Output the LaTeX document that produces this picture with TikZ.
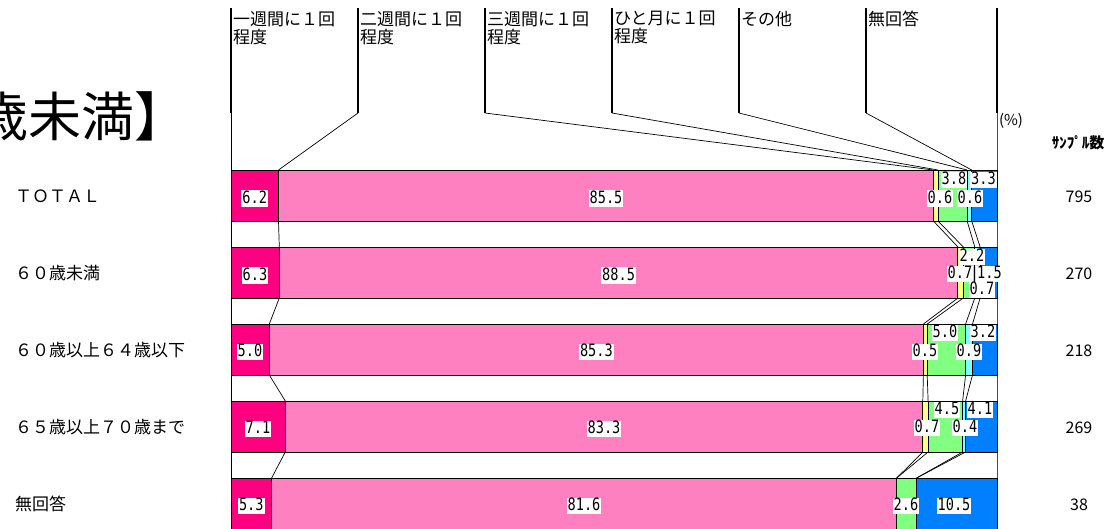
\documentclass[tikz,border=0pt]{standalone}
\usepackage{fontspec}
\setmainfont{Noto Sans CJK JP}
\newfontfamily\numfont[FakeStretch=0.8]{DejaVu Sans Mono}
\definecolor{c1}{RGB}{255,0,128}
\definecolor{c2}{RGB}{255,128,192}
\definecolor{c3}{RGB}{255,255,128}
\definecolor{c4}{RGB}{128,255,128}
\definecolor{c5}{RGB}{128,255,255}
\definecolor{c6}{RGB}{0,128,255}
\newcommand\drawbar[7]{%
  \coordinate (#1t0) at (231,#2);
  \coordinate (#1t1) at (#3,#2);
  \coordinate (#1t2) at (#4,#2);
  \coordinate (#1t3) at (#5,#2);
  \coordinate (#1t4) at (#6,#2);
  \coordinate (#1t5) at (#7,#2);
  \coordinate (#1t6) at (997,#2);
  \coordinate (#1b0) at (231,#2+51);
  \coordinate (#1b1) at (#3,#2+51);
  \coordinate (#1b2) at (#4,#2+51);
  \coordinate (#1b3) at (#5,#2+51);
  \coordinate (#1b4) at (#6,#2+51);
  \coordinate (#1b5) at (#7,#2+51);
  \coordinate (#1b6) at (997,#2+51);
  \filldraw[seg,fill=c1] (#1t0) rectangle (#1b1);
  \filldraw[seg,fill=c2] (#1t1) rectangle (#1b2);
  \filldraw[seg,fill=c3] (#1t2) rectangle (#1b3);
  \filldraw[seg,fill=c4] (#1t3) rectangle (#1b4);
  \filldraw[seg,fill=c5] (#1t4) rectangle (#1b5);
  \filldraw[seg,fill=c6] (#1t5) rectangle (#1b6);
}
\begin{document}
\begin{tikzpicture}[x=1pt,y=-1pt,
  seg/.style={draw=black,line width=0.9pt},
  hline/.style={draw=black,line width=1.6pt},
  dline/.style={draw=black,line width=0.7pt},
  sline/.style={draw=black!70,line width=0.6pt},
  hdr/.style={anchor=north west,inner sep=0pt,align=left,font=\fontsize{17}{18}\selectfont},
  rowlbl/.style={anchor=west,inner sep=0pt,font=\fontsize{17}{18}\selectfont},
  val/.style={fill=white,inner xsep=1pt,inner ysep=0.5pt,text height=12.5pt,text depth=3pt,font=\numfont\fontsize{17}{17}\selectfont},
  num/.style={inner sep=0pt,font=\fontsize{16}{18}\selectfont}]
\useasboundingbox (0,0) rectangle (1111,528);
\fill[white] (0,0) rectangle (1111,528);

% title (cut at left edge)
\node[anchor=east,inner sep=0pt,font=\fontsize{53}{53}\selectfont] (title) at (188,116) {歳未満】};

% header line tops and bends
\coordinate (a1) at (231,8);
\coordinate (a2) at (358,8);  \coordinate (k2) at (358,113);
\coordinate (a3) at (485,8);  \coordinate (k3) at (485,113);
\coordinate (a4) at (612,8);  \coordinate (k4) at (612,113);
\coordinate (a5) at (739,8);  \coordinate (k5) at (739,113);
\coordinate (a6) at (866,8);  \coordinate (k6) at (866,113);
\coordinate (a7) at (997,8);  \coordinate (k7) at (997,113);
\coordinate (lend) at (231,530);
\coordinate (rend) at (997,530);

\node[hdr] (h1) at (233,11) {一週間に１回\\程度};
\node[hdr] (h2) at (360,11) {二週間に１回\\程度};
\node[hdr] (h3) at (487,11) {三週間に１回\\程度};
\node[hdr] (h4) at (614,11) {ひと月に１回\\程度};
\node[hdr] (h5) at (741,11) {その他};
\node[hdr] (h6) at (868,11) {無回答};

% axis lines
\draw[hline] (a1) -- (231,113);
\draw[draw=black,line width=0.8pt] (231,113) -- (lend);
\draw[hline] (a7) -- (k7);
\draw[sline] (k7) -- (rend);

% bars
\drawbar{r1}{170}{278.5}{933.4}{938.0}{967.1}{971.7}
\drawbar{r2}{247}{279.3}{957.9}{963.3}{974.8}{980.1}
\drawbar{r3}{324}{269.3}{923.4}{927.2}{965.6}{972.5}
\drawbar{r4}{401}{285.3}{922.8}{928.1}{962.6}{965.6}
\drawbar{r5}{478}{271.6}{896.7}{896.7}{916.6}{916.6}

% header leaders
\draw[hline] (a2) -- (k2); \draw[dline] (k2) -- (r1t1);
\draw[hline] (a3) -- (k3); \draw[dline] (k3) -- (r1t2);
\draw[hline] (a4) -- (k4); \draw[dline] (k4) -- (r1t3);
\draw[hline] (a5) -- (k5); \draw[dline] (k5) -- (r1t4);
\draw[hline] (a6) -- (k6); \draw[dline] (k6) -- (r1t5);

% series lines between bars
\foreach \u/\v in {r1/r2,r2/r3,r3/r4,r4/r5}{
  \foreach \k in {1,...,5}{
    \draw[dline] (\u b\k) -- (\v t\k);
  }
}

% value labels
\node[val] (v11) at (254.7,198.5) {6.2};
\node[val] (v12) at (606,198.5) {85.5};
\node[val] (v13) at (940,198.5) {0.6};
\node[val] (v14) at (954,180) {3.8};
\node[val] (v15) at (970,198.5) {0.6};
\node[val] (v16) at (983.5,180) {3.3};

\node[val] (v21) at (255,275.5) {6.3};
\node[val] (v22) at (618.6,275.5) {88.5};
\node[val] (v23) at (960,274) {0.7};
\node[val] (v24) at (989.5,274) {1.5};
\node[val] (v25) at (982,290) {0.7};
\node[val] (v26) at (972,257) {2.2};

\node[val] (v31) at (250,352) {5.0};
\node[val] (v32) at (596.4,352) {85.3};
\node[val] (v33) at (925,352) {0.5};
\node[val] (v34) at (945,333) {5.0};
\node[val] (v35) at (969,352) {0.9};
\node[val] (v36) at (983,333) {3.2};

\node[val] (v41) at (258,429) {7.1};
\node[val] (v42) at (604,429) {83.3};
\node[val] (v43) at (927,428) {0.7};
\node[val] (v44) at (947,410) {4.5};
\node[val] (v45) at (965,428) {0.4};
\node[val] (v46) at (980,410) {4.1};

\node[val] (v51) at (251.3,506) {5.3};
\node[val] (v52) at (584,506) {81.6};
\node[val] (v54) at (906,506) {2.6};
\node[val] (v56) at (954,506) {10.5};

% row labels
\node[rowlbl] (l1) at (15,196) {ＴＯＴＡＬ};
\node[rowlbl] (l2) at (15,273) {６０歳未満};
\node[rowlbl] (l3) at (15,350) {６０歳以上６４歳以下};
\node[rowlbl] (l4) at (15,427) {６５歳以上７０歳まで};
\node[rowlbl] (l5) at (15,504) {無回答};

% right side
\node[inner sep=0pt,font=\fontsize{15}{15}\selectfont] (pct) at (1011,121) {(\%)};
\node[inner sep=0pt,font=\fontsize{15}{15}\selectfont\bfseries] (smp) at (1078,143) {ｻﾝﾌﾟﾙ数};
\node[num] (n1) at (1079,197) {795};
\node[num] (n2) at (1079,274) {270};
\node[num] (n3) at (1079,351) {218};
\node[num] (n4) at (1079,428) {269};
\node[num] (n5) at (1079,505) {38};
\end{tikzpicture}
\end{document}
